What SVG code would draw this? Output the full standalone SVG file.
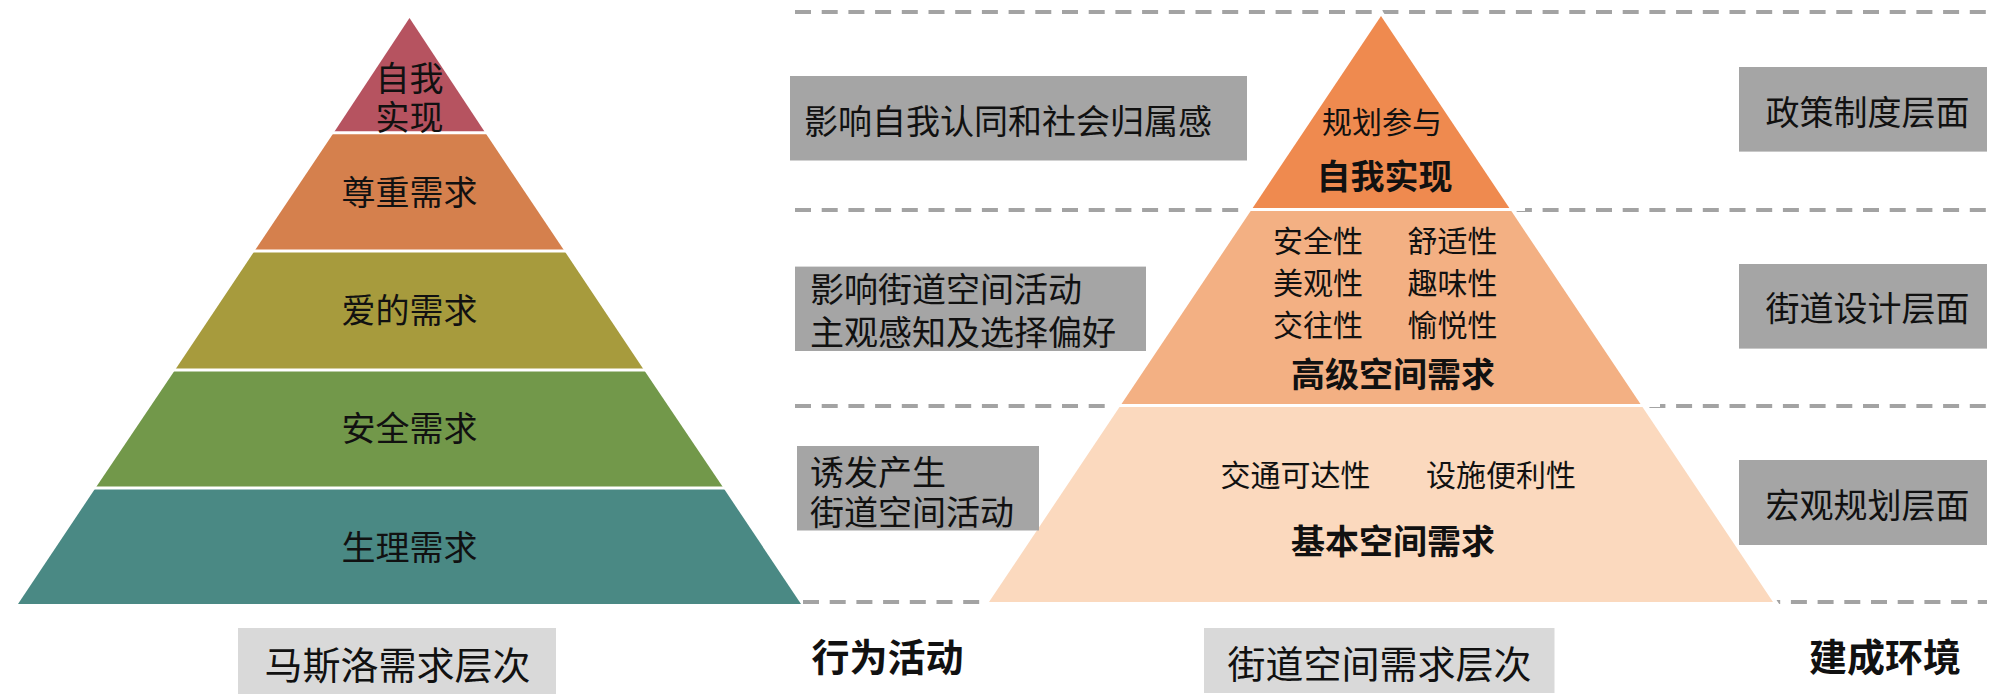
<svg xmlns="http://www.w3.org/2000/svg" width="2000" height="699" viewBox="0 0 2000 699">
<style>
text{font-family:"Noto Sans CJK SC","Microsoft YaHei",sans-serif;fill:#111;dominant-baseline:central}
.c{text-anchor:middle}
.s34{font-size:34px}
.s30{font-size:30px}
.s38{font-size:38px}
.b{font-weight:bold}
.dash{stroke:#A3A3A3;stroke-width:4;stroke-dasharray:16 10.7;fill:none}
.gbox{fill:#A5A5A5}
.lbox{fill:#D9D9D9}
.gap{stroke:#fff;stroke-width:3}
</style>
<rect width="2000" height="699" fill="#fff"/>
<g id="connectors">
<line class="dash" x1="795" y1="12" x2="1987" y2="12"/>
<line class="dash" x1="795" y1="210" x2="1987" y2="210"/>
<line class="dash" x1="795" y1="406" x2="1987" y2="406"/>
<line class="dash" x1="803" y1="602" x2="1987" y2="602"/>
</g>
<g id="maslow">
<polygon points="409.5,18 485.3,132.8 333.7,132.8" fill="#B65360"/>
<polygon points="333.7,132.8 485.3,132.8 564.5,251 254.5,251" fill="#D5804D"/>
<polygon points="254.5,251 564.5,251 644,370 175,370" fill="#A79B3D"/>
<polygon points="175,370 644,370 723.5,488 95.5,488" fill="#72984A"/>
<polygon points="95.5,488 723.5,488 801,604 18,604" fill="#4A8984"/>
<line class="gap" x1="320" y1="132.8" x2="500" y2="132.8"/>
<line class="gap" x1="240" y1="251" x2="580" y2="251"/>
<line class="gap" x1="160" y1="370" x2="660" y2="370"/>
<line class="gap" x1="80" y1="488" x2="740" y2="488"/>
<text class="c s34" x="409.5" y="76">自我</text>
<text class="c s34" x="409.5" y="115">实现</text>
<text class="c s34" x="409.5" y="190.6">尊重需求</text>
<text class="c s34" x="409.5" y="308">爱的需求</text>
<text class="c s34" x="409.5" y="426">安全需求</text>
<text class="c s34" x="409.5" y="545">生理需求</text>
</g>
<g id="street">
<polygon points="1381,16 1773,602 989,602" fill="#fff" stroke="#fff" stroke-width="8"/>
<polygon points="1381,16 1510,209 1252,209" fill="#EF8A4F"/>
<polygon points="1252,209 1510,209 1641.5,405.5 1120.5,405.5" fill="#F3B083"/>
<polygon points="1120.5,405.5 1641.5,405.5 1773,602 989,602" fill="#FBD9BE"/>
<line class="gap" x1="1240" y1="209.5" x2="1525" y2="209.5"/>
<line class="gap" x1="1105" y1="405.5" x2="1660" y2="405.5"/>
<text class="c s30" x="1382" y="119.5">规划参与</text>
<text class="c s34 b" x="1384.5" y="174">自我实现</text>
<text class="c s30" x="1318" y="238.5">安全性</text>
<text class="c s30" x="1452.5" y="238.5">舒适性</text>
<text class="c s30" x="1318" y="281">美观性</text>
<text class="c s30" x="1452.5" y="281">趣味性</text>
<text class="c s30" x="1318" y="323">交往性</text>
<text class="c s30" x="1452.5" y="323">愉悦性</text>
<text class="c s34 b" x="1393" y="372">高级空间需求</text>
<text class="c s30" x="1295.5" y="472.6">交通可达性</text>
<text class="c s30" x="1501" y="472.6">设施便利性</text>
<text class="c s34 b" x="1393" y="539.5">基本空间需求</text>
</g>
<g id="behavior1">
<rect class="gbox" x="790" y="76" width="457" height="84.5"/>
<text class="s34" x="804" y="119.5">影响自我认同和社会归属感</text>
</g>
<g id="behavior2">
<rect class="gbox" x="795" y="266.6" width="351" height="84.4"/>
<text class="s34" x="810" y="287.6">影响街道空间活动</text>
<text class="s34" x="810" y="330">主观感知及选择偏好</text>
</g>
<g id="behavior3">
<rect class="gbox" x="797" y="446" width="242" height="84.5"/>
<text class="s34" x="810" y="470">诱发产生</text>
<text class="s34" x="810" y="510.5">街道空间活动</text>
</g>
<g id="env1">
<rect class="gbox" x="1739" y="67" width="248" height="84.6"/>
<text class="c s34" x="1867.5" y="110.6">政策制度层面</text>
</g>
<g id="env2">
<rect class="gbox" x="1739" y="264" width="248" height="84.6"/>
<text class="c s34" x="1867.5" y="306.7">街道设计层面</text>
</g>
<g id="env3">
<rect class="gbox" x="1739" y="460" width="248" height="85"/>
<text class="c s34" x="1867.5" y="503.8">宏观规划层面</text>
</g>
<g id="label-maslow">
<rect class="lbox" x="238" y="628" width="318" height="66"/>
<text class="c s38" x="397.5" y="662">马斯洛需求层次</text>
</g>
<g id="label-behavior">
<text class="c s38 b" x="887.5" y="654.5">行为活动</text>
</g>
<g id="label-street">
<rect class="lbox" x="1204" y="628" width="350.5" height="65"/>
<text class="c s38" x="1379.5" y="661">街道空间需求层次</text>
</g>
<g id="label-env">
<text class="c s38 b" x="1885" y="654.5">建成环境</text>
</g>
</svg>
